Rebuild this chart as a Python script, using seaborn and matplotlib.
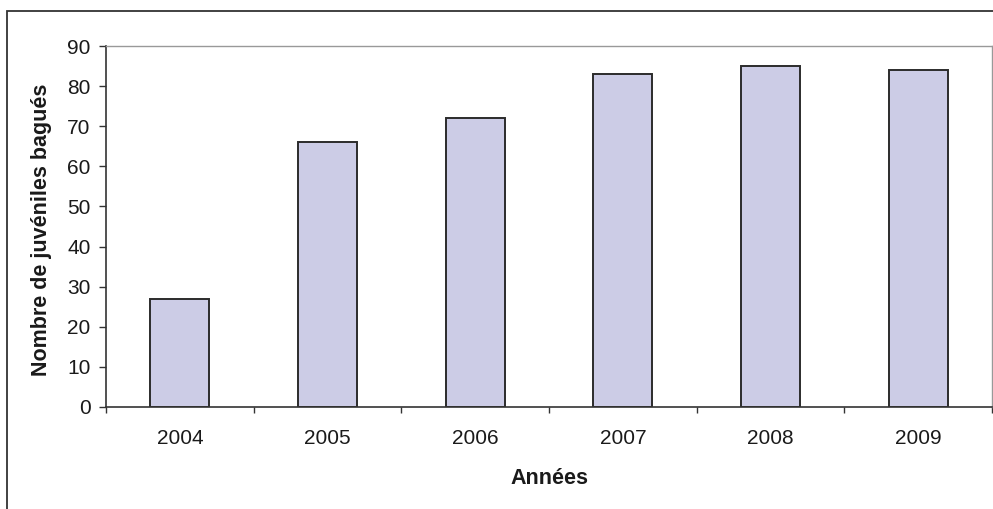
import matplotlib
matplotlib.use("Agg")
import matplotlib.pyplot as plt
from matplotlib.patches import Rectangle
from matplotlib.ticker import FixedLocator
import seaborn as sns
import pandas as pd

years = ["2004", "2005", "2006", "2007", "2008", "2009"]
juveniles = [27, 66, 72, 83, 85, 84]

sns.set_theme(style="white")
plt.rcParams["font.family"] = ["Liberation Sans", "DejaVu Sans"]

df = pd.DataFrame({"Années": years, "n": juveniles})

fig = plt.figure(figsize=(9.93, 5.09), dpi=100)
ax = fig.add_axes([106 / 993, 1 - 407 / 509, 886 / 993, 361 / 509])

sns.barplot(data=df, x="Années", y="n", ax=ax, color="#CCCCE6",
            saturation=1, width=0.4, edgecolor="#2b2b2b", linewidth=1.4)

ax.set_ylim(0, 90)
ax.set_xlim(-0.5, len(years) - 0.5)
ax.set_yticks(range(0, 91, 10))

# ticks between categories on the x axis
ax.xaxis.set_minor_locator(FixedLocator([i - 0.5 for i in range(len(years) + 1)]))
ax.tick_params(axis="x", which="major", length=0, pad=16, labelsize=15, colors="#1a1a1a")
ax.tick_params(axis="x", which="minor", bottom=True, length=4.5, width=1, color="#333333")
ax.tick_params(axis="y", left=True, length=5, width=1, color="#333333",
               labelsize=15, labelcolor="#1a1a1a", pad=6)

for side in ("left", "bottom"):
    ax.spines[side].set_color("#333333")
    ax.spines[side].set_linewidth(1.2)
for side in ("top", "right"):
    ax.spines[side].set_visible(True)
    ax.spines[side].set_color("#999999")
    ax.spines[side].set_linewidth(1.0)

ax.set_xlabel("Années", fontsize=15.5, fontweight="bold", color="#1a1a1a")
ax.set_ylabel("Nombre de juvéniles bagués", fontsize=15.5, fontweight="bold",
              color="#1a1a1a")
ax.xaxis.set_label_coords(0.5, -0.169)
ax.yaxis.set_label_coords(-0.061, 0.49)

# outer chart frame
fig.patches.append(Rectangle((7 / 993, -0.1), 1.2, 1 - 11 / 509 + 0.1,
                             transform=fig.transFigure, fill=False,
                             edgecolor="#333333", linewidth=1.3))

fig.savefig("out.png", dpi=100)
